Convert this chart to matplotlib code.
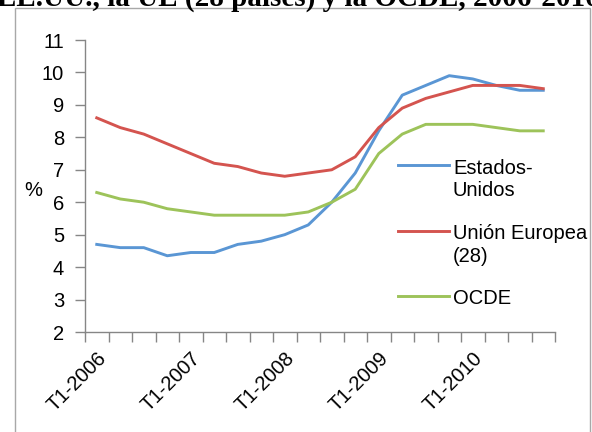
import matplotlib
matplotlib.use("Agg")
import matplotlib.pyplot as plt
from matplotlib.patches import Rectangle
from matplotlib.lines import Line2D

# ---- data ----
years = [2006, 2007, 2008, 2009, 2010]
quarters = [f"T{q}-{y}" for y in years for q in range(1, 5)]
tick_labels = [f"T1-{y}" for y in years]

estados_unidos = [4.7, 4.6, 4.6, 4.35, 4.45, 4.45, 4.7, 4.8, 5.0, 5.3,
                  6.0, 6.9, 8.2, 9.3, 9.6, 9.9, 9.8, 9.6, 9.45, 9.45]
union_europea = [8.6, 8.3, 8.1, 7.8, 7.5, 7.2, 7.1, 6.9, 6.8, 6.9,
                 7.0, 7.4, 8.3, 8.9, 9.2, 9.4, 9.6, 9.6, 9.6, 9.5]
ocde = [6.3, 6.1, 6.0, 5.8, 5.7, 5.6, 5.6, 5.6, 5.6, 5.7,
        6.0, 6.4, 7.5, 8.1, 8.4, 8.4, 8.4, 8.3, 8.2, 8.2]

series_names = ["Estados-\nUnidos", "Unión Europea\n(28)", "OCDE"]
series_colors = ["#5A96D4", "#D4544F", "#9DC35A"]

plt.rcParams['font.family'] = ['Liberation Sans', 'DejaVu Sans']
FS = 14.5

W, H = 592, 432
fig = plt.figure(figsize=(W / 100, H / 100), dpi=100)

def fx(px):
    return px / W

def fy(py):
    return 1 - py / H

# outer chart border
fig.patches.append(Rectangle((fx(15), -0.1), fx(590 - 15), 1.1 - 8 / H,
                             transform=fig.transFigure, fill=False,
                             edgecolor="#a8a8a8", linewidth=1.0))

# clipped title at the top (cut off in the source image)
fig.text(fx(-3), fy(6), "EE.UU., la UE (28 países) y la OCDE, 2006-2010",
         ha='left', va='baseline', fontsize=21, fontweight='bold',
         family=['Liberation Serif', 'DejaVu Serif'])

ax = fig.add_axes([fx(85), fy(332), fx(555 - 85), (332 - 40) / H])

x = list(range(len(quarters)))
for vals, col in zip([estados_unidos, union_europea, ocde], series_colors):
    ax.plot(x, vals, color=col, linewidth=2.1)

ax.set_xlim(-0.5, len(quarters) - 0.5)
ax.set_ylim(2, 11)
ax.set_yticks(range(2, 12))
ax.tick_params(axis='y', labelsize=FS, length=7, width=1, color='#868686',
               direction='out', pad=8)

# category boundary ticks
ax.set_xticks([i - 0.5 for i in range(len(quarters) + 1)])
ax.set_xticklabels([])
ax.tick_params(axis='x', length=7, width=1, color='#868686', direction='out')
ax.set_xticks([quarters.index(t) for t in tick_labels], minor=True)
ax.set_xticklabels(tick_labels, minor=True, rotation=45, ha='right',
                   rotation_mode='anchor', fontsize=FS)
ax.tick_params(axis='x', which='minor', length=0, pad=12)
for lbl in ax.get_xticklabels(minor=True):
    lbl.set_x(lbl.get_position()[0])

for s in ['top', 'right']:
    ax.spines[s].set_visible(False)
for s in ['left', 'bottom']:
    ax.spines[s].set_color('#868686')
    ax.spines[s].set_linewidth(1.0)

fig.text(fx(33), fy(190), "%", ha='center', va='center', fontsize=FS)

# legend (drawn manually so the handle sits on the first text line)
legend_y = [165, 231, 296]
for name, col, py in zip(series_names, series_colors, legend_y):
    fig.add_artist(Line2D([fx(398), fx(449)], [fy(py), fy(py)],
                          color=col, linewidth=2.1, transform=fig.transFigure))
    for k, line in enumerate(name.split("\n")):
        fig.text(fx(453), fy(py + 3 + 23 * k), line, ha='left', va='center',
                 fontsize=FS)

fig.savefig("out.png", dpi=100)
